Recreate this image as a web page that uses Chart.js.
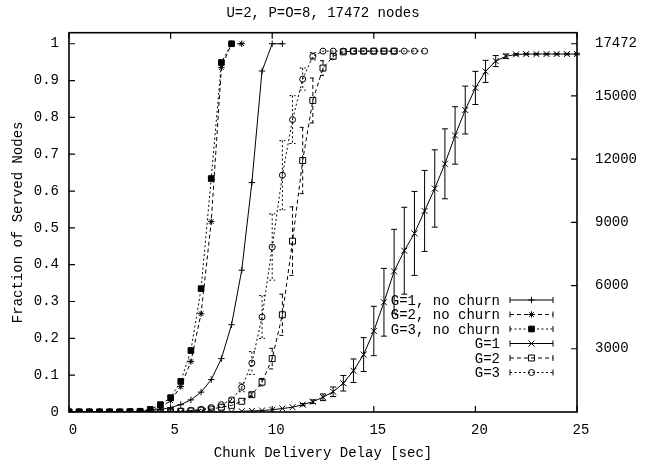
<!DOCTYPE html>
<html><head><meta charset="utf-8">
<script src="https://cdn.jsdelivr.net/npm/chart.js@4/dist/chart.umd.min.js"></script>
<style>html,body{margin:0;padding:0;background:#fff}#wrap{width:659px;height:464px;position:relative}</style>
</head><body><div id="wrap"><canvas id="c"></canvas></div>
<script>
// ---- data ----
const delays = [0,0.5,1,1.5,2,2.5,3,3.5,4,4.5,5,5.5,6,6.5,7,7.5,8,8.5,9,9.5,10,10.5,11,11.5,12,12.5,13,13.5,14,14.5,15,15.5,16,16.5,17,17.5,18,18.5,19,19.5,20,20.5,21,21.5,22,22.5,23,23.5,24,24.5,25];
const seriesLabels = ['G=1, no churn','G=2, no churn','G=3, no churn','G=1','G=2','G=3'];
const g1NoChurn = [0,0,0,0,0,0,0.001,0.002,0.004,0.007,0.012,0.02,0.033,0.054,0.088,0.145,0.237,0.385,0.623,0.926,1.0,1.0];
const g2NoChurn = [0,0,0,0,0,0,0.0005,0.001,0.004,0.012,0.031,0.069,0.137,0.267,0.517,0.935,1.0,1.0];
const g3NoChurn = [0,0,0,0,0,0,0.001,0.002,0.007,0.02,0.039,0.083,0.167,0.335,0.634,0.949,1.0];
const g1Churn = [0,0,0,0,0,0,0,0,0,0,0,0,0,0,0,0,0,0.002,0.003,0.004,0.006,0.0095,0.013,0.02,0.028,0.04,0.055,0.078,0.112,0.156,0.22,0.298,0.382,0.438,0.485,0.546,0.607,0.674,0.751,0.82,0.88,0.925,0.953,0.966,0.971,0.972,0.972,0.972,0.972,0.972,0.972];
const g1ChurnErr = [0,0,0,0,0,0,0,0,0,0,0,0,0,0,0,0,0,0,0,0,0,0,0,0.003,0.005,0.009,0.013,0.021,0.032,0.046,0.067,0.092,0.114,0.118,0.114,0.11,0.105,0.095,0.078,0.065,0.045,0.03,0.015,0.006,0.002,0.002,0.002,0.002,0.002,0.002,0.002];
const g2Churn = [0,0,0,0,0,0,0,0,0,0,0.001,0.002,0.003,0.005,0.008,0.013,0.018,0.029,0.047,0.081,0.145,0.264,0.464,0.683,0.846,0.934,0.966,0.978,0.98,0.98,0.98,0.98,0.98];
const g2ChurnErr = [0,0,0,0,0,0,0,0,0,0,0,0,0,0,0,0,0,0,0.005,0.01,0.028,0.056,0.093,0.09,0.061,0.02,0.008,0,0,0,0,0,0];
const g3Churn = [0,0,0,0,0,0,0,0,0,0,0.001,0.002,0.004,0.007,0.012,0.02,0.033,0.067,0.133,0.258,0.448,0.643,0.794,0.904,0.966,0.98,0.98,0.98,0.98,0.98,0.98,0.98,0.98,0.98,0.98,0.98];
const g3ChurnErr = [0,0,0,0,0,0,0,0,0,0,0,0,0,0,0,0,0.005,0.012,0.031,0.058,0.09,0.094,0.065,0.03,0.01,0,0,0,0,0,0,0,0,0,0,0];
const xTickValues = [0,5,10,15,20,25];
const yTickValues = [0,0.1,0.2,0.3,0.4,0.5,0.6,0.7,0.8,0.9,1];
const y2TickValues = [3000,6000,9000,12000,15000,17472];
const totalNodes = 17472;
const yMax = 1.03;

// ---- styling ----
const MONO = '"Liberation Mono", "DejaVu Sans Mono", monospace';
const DASHED = [4,3];
const DOTTED = [2,2.5];
function pts(arr){ return arr.map((v,i)=>({x:delays[i], y:v})); }
function ds(label, arr, style, radius, dash, fill, errs){
  return {label, data: pts(arr), borderColor:'#000', borderWidth:1, borderDash:dash,
    pointStyle:style, pointRadius:radius, pointHoverRadius:radius, pointBorderColor:'#000',
    pointBorderWidth:1, pointBackgroundColor: fill ? '#000' : 'rgba(0,0,0,0)',
    backgroundColor:'rgba(0,0,0,0)', fill:false, tension:0, errors: errs || null};
}
const datasets = [
  ds(seriesLabels[0], g1NoChurn, 'cross', 3.2, [], false),
  ds(seriesLabels[1], g2NoChurn, 'star', 3.2, DASHED, false),
  ds(seriesLabels[2], g3NoChurn, 'rect', 4, DOTTED, true),
  ds(seriesLabels[3], g1Churn, 'crossRot', 4.2, [], false, g1ChurnErr),
  ds(seriesLabels[4], g2Churn, 'rect', 4.2, DASHED, false, g2ChurnErr),
  ds(seriesLabels[5], g3Churn, 'circle', 3, DOTTED, false, g3ChurnErr)
];

const errorBars = {
  id:'errorBars',
  afterDatasetsDraw(chart){
    const ctx = chart.ctx, xs = chart.scales.x, ys = chart.scales.y;
    chart.data.datasets.forEach(d=>{
      if(!d.errors) return;
      ctx.save();
      ctx.strokeStyle = '#000'; ctx.lineWidth = 1; ctx.setLineDash(d.borderDash||[]);
      d.data.forEach((p,i)=>{
        const e = d.errors[i]; if(!e) return;
        const px = xs.getPixelForValue(p.x);
        const t = ys.getPixelForValue(p.y+e), b = ys.getPixelForValue(p.y-e);
        ctx.beginPath();
        ctx.moveTo(px,t); ctx.lineTo(px,b);
        ctx.moveTo(px-3,t); ctx.lineTo(px+3,t);
        ctx.moveTo(px-3,b); ctx.lineTo(px+3,b);
        ctx.stroke();
      });
      ctx.restore();
    });
  }
};

const frameTicks = {
  id:'frameTicks',
  afterDraw(chart){
    const ctx = chart.ctx, a = chart.chartArea, s = chart.scales;
    ctx.save();
    ctx.strokeStyle = '#000'; ctx.lineWidth = 1.6; ctx.setLineDash([]);
    ctx.strokeRect(a.left, a.top, a.right-a.left, a.bottom-a.top);
    ctx.lineWidth = 1.2;
    ctx.beginPath();
    s.x.ticks.forEach(t=>{ const p = s.x.getPixelForValue(t.value);
      ctx.moveTo(p,a.bottom); ctx.lineTo(p,a.bottom-6); ctx.moveTo(p,a.top); ctx.lineTo(p,a.top+6); });
    s.y.ticks.forEach(t=>{ const p = s.y.getPixelForValue(t.value);
      ctx.moveTo(a.left,p); ctx.lineTo(a.left+6,p); });
    s.y2.ticks.forEach(t=>{ const p = s.y2.getPixelForValue(t.value);
      ctx.moveTo(a.right,p); ctx.lineTo(a.right-6,p); });
    ctx.stroke();
    ctx.restore();
  }
};

const keyBox = {
  id:'keyBox',
  afterDraw(chart){
    const ctx = chart.ctx, a = chart.chartArea;
    const textX = a.right - 77, l0 = a.right - 67, l1 = a.right - 24, top = a.bottom - 112;
    ctx.save();
    ctx.font = '14px ' + MONO; ctx.fillStyle = '#000'; ctx.textAlign = 'right'; ctx.textBaseline = 'middle';
    chart.data.datasets.forEach((d,i)=>{
      const y = top + 14.5*i;
      ctx.fillText(d.label, textX, y+1);
      ctx.strokeStyle = '#000'; ctx.lineWidth = 1; ctx.setLineDash(d.borderDash||[]);
      ctx.beginPath(); ctx.moveTo(l0,y); ctx.lineTo(l1,y); ctx.stroke();
      ctx.setLineDash([]);
      ctx.beginPath(); ctx.moveTo(l0,y-3); ctx.lineTo(l0,y+3); ctx.moveTo(l1,y-3); ctx.lineTo(l1,y+3); ctx.stroke();
      ctx.fillStyle = d.pointBackgroundColor;
      Chart.helpers.drawPoint(ctx, {pointStyle:d.pointStyle, radius:d.pointRadius, rotation:0, borderWidth:1}, (l0+l1)/2, y);
      ctx.fillStyle = '#000';
    });
    ctx.restore();
  }
};

const tickFont = {family: MONO, size: 14};
new Chart(document.getElementById('c'), {
  type:'line',
  data:{datasets},
  options:{
    responsive:true, maintainAspectRatio:false, animation:false, devicePixelRatio:1,
    layout:{padding:0},
    plugins:{
      legend:{display:false}, tooltip:{enabled:false},
      title:{display:true, text:'U=2, P=O=8, 17472 nodes', fullSize:false, color:'#000',
        font:{family:MONO, size:14, weight:'normal'}, padding:{top:4.5, bottom:11.4}}
    },
    scales:{
      x:{type:'linear', position:'bottom', min:0, max:25,
        afterBuildTicks:s=>{ s.ticks = xTickValues.map(v=>({value:v})); },
        afterFit:s=>{ s.height = 52; },
        ticks:{font:tickFont, color:'#000', padding:10, labelOffset:4, maxRotation:0, autoSkip:false, callback:v=>String(v)},
        grid:{display:false, drawTicks:false}, border:{display:false},
        title:{display:true, text:'Chunk Delivery Delay [sec]', color:'#000', font:tickFont, padding:{top:0,bottom:2.5}}
      },
      y:{type:'linear', position:'left', min:0, max:yMax,
        afterBuildTicks:s=>{ s.ticks = yTickValues.map(v=>({value:v})); },
        afterFit:s=>{ s.width = 69; },
        ticks:{font:tickFont, color:'#000', padding:10, callback:v=>String(v)},
        grid:{display:false, drawTicks:false}, border:{display:false},
        title:{display:true, text:'Fraction of Served Nodes', color:'#000', font:tickFont, padding:{top:9.5,bottom:0}}
      },
      y2:{type:'linear', position:'right', min:0, max:yMax*totalNodes,
        afterBuildTicks:s=>{ s.ticks = y2TickValues.map(v=>({value:v})); },
        afterFit:s=>{ s.width = 82; },
        ticks:{font:tickFont, color:'#000', padding:18, callback:v=>String(v)},
        grid:{display:false, drawTicks:false}, border:{display:false}
      }
    }
  },
  plugins:[errorBars, frameTicks, keyBox]
});
</script></body></html>
